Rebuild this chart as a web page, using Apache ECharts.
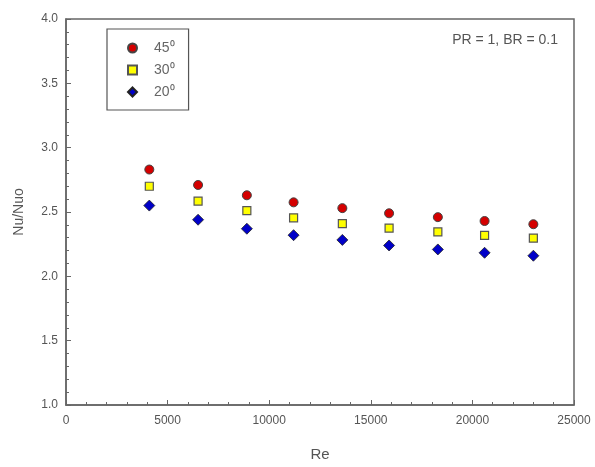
<!DOCTYPE html>
<html>
<head>
<meta charset="utf-8">
<script src="https://cdn.jsdelivr.net/npm/echarts@6/dist/echarts.min.js"></script>
<style>html,body{margin:0;padding:0;background:#fff;}#c{width:595px;height:467px;}</style>
</head>
<body>
<div id="c"></div>
<script>
var re = [4100, 6500, 8900, 11200, 13600, 15900, 18300, 20600, 23000];
var nu45 = [2.83, 2.71, 2.63, 2.575, 2.53, 2.49, 2.46, 2.43, 2.405];
var nu30 = [2.70, 2.585, 2.51, 2.455, 2.41, 2.375, 2.345, 2.318, 2.297];
var nu20 = [2.55, 2.44, 2.37, 2.32, 2.283, 2.24, 2.209, 2.183, 2.16];
var seriesNames = ['45\u2070', '30\u2070', '20\u2070'];

function pairs(xs, ys) { return xs.map(function (x, i) { return [x, ys[i]]; }); }

var chart = echarts.init(document.getElementById('c'), null, {renderer: 'canvas'});
var font = 'Liberation Sans, Arial, sans-serif';
chart.setOption({
  animation: false,
  backgroundColor: '#fff',
  grid: {left: 66, right: 21, top: 19, bottom: 60, show: true, borderColor: '#666', borderWidth: 1.5, backgroundColor: 'transparent'},
  xAxis: {
    type: 'value', min: 0, max: 25000, interval: 5000,
    name: 'Re', nameLocation: 'middle', nameGap: 42,
    nameTextStyle: {color: '#555', fontSize: 15, fontFamily: font},
    axisLine: {show: true, lineStyle: {color: '#666', width: 1.5}},
    axisTick: {show: true, inside: true, length: 5, lineStyle: {color: '#666'}},
    minorTick: {show: true, splitNumber: 5, length: 3, lineStyle: {color: '#666'}},
    splitLine: {show: false},
    axisLabel: {color: '#555', fontSize: 12, fontFamily: font, margin: 10, formatter: function (v) { return String(v); }}
  },
  yAxis: {
    type: 'value', min: 1.0, max: 4.0, interval: 0.5,
    name: 'Nu/Nuo', nameLocation: 'middle', nameGap: 40,
    nameTextStyle: {color: '#555', fontSize: 14, fontFamily: font},
    axisLine: {show: true, lineStyle: {color: '#666', width: 1.5}},
    axisTick: {show: true, inside: true, length: 5, lineStyle: {color: '#666'}},
    minorTick: {show: true, splitNumber: 5, length: 3, lineStyle: {color: '#666'}},
    splitLine: {show: false},
    axisLabel: {color: '#555', fontSize: 12, fontFamily: font, margin: 8, formatter: function (v) { return v.toFixed(1); }}
  },
  legend: {
    orient: 'vertical', left: 107, top: 29,
    padding: [12, 14, 11, 20],
    itemGap: 8, itemWidth: 9, itemHeight: 9,
    borderColor: '#555', borderWidth: 1.2,
    textStyle: {color: '#666', fontSize: 14, fontFamily: font, padding: [0, 0, 0, 12]},
    data: seriesNames
  },
  graphic: [{
    type: 'text', right: 37, top: 33,
    style: {text: 'PR = 1, BR = 0.1', fill: '#555', fontSize: 14, fontFamily: font}
  }],
  series: [
    {name: seriesNames[0], type: 'scatter', symbol: 'circle', symbolSize: 9, data: pairs(re, nu45),
     itemStyle: {color: '#d40000', borderColor: '#444', borderWidth: 1, opacity: 1}},
    {name: seriesNames[1], type: 'scatter', symbol: 'rect', symbolSize: 8, data: pairs(re, nu30),
     itemStyle: {color: '#ffff00', borderColor: '#555', borderWidth: 1.2, opacity: 1}},
    {name: seriesNames[2], type: 'scatter', symbol: 'diamond', symbolSize: 11, data: pairs(re, nu20),
     itemStyle: {color: '#0000c8', borderColor: '#222', borderWidth: 0.8, opacity: 1}}
  ]
});
</script>
</body>
</html>
